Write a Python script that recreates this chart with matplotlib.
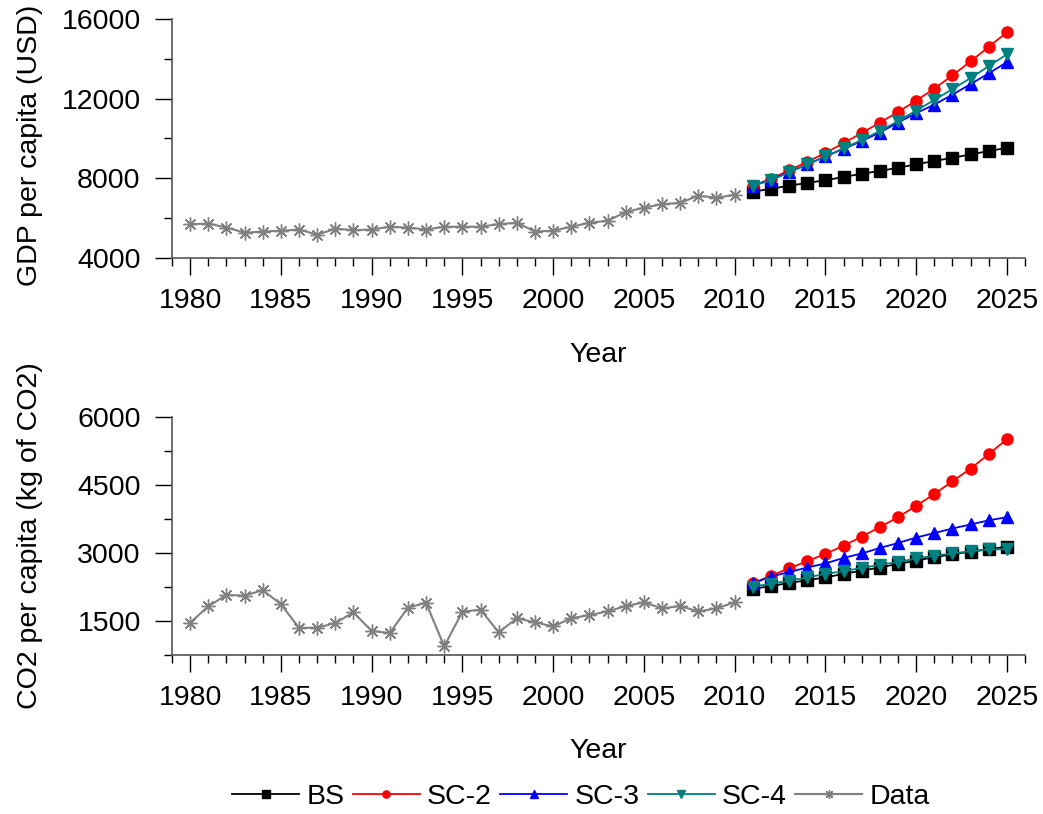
import numpy as np
import matplotlib.pyplot as plt
from matplotlib.ticker import MultipleLocator

plt.rcParams['font.family'] = ['Liberation Sans', 'DejaVu Sans']

# observed data
years_hist = list(range(1980, 2011))
gdp_hist = [5700, 5730, 5530, 5270, 5330, 5370, 5430, 5170, 5470, 5400,
            5430, 5570, 5530, 5430, 5570, 5570, 5570, 5700, 5770, 5330,
            5370, 5570, 5770, 5870, 6300, 6530, 6700, 6770, 7130, 7030,
            7170]
co2_hist = [1460, 1825, 2075, 2060, 2180, 1870, 1350, 1350, 1456, 1690,
            1280, 1235, 1795, 1900, 940, 1705, 1750, 1250, 1560, 1470,
            1380, 1560, 1630, 1710, 1830, 1910, 1780, 1830, 1710, 1780,
            1910]

# scenario projections
years_proj = list(range(2011, 2026))
gdp_bs = [7330, 7470, 7630, 7770, 7900, 8070, 8230, 8370, 8530, 8700,
          8870, 9030, 9200, 9370, 9530]
gdp_sc2 = [7630, 7970, 8400, 8830, 9270, 9770, 10270, 10800, 11330, 11900,
           12500, 13170, 13870, 14600, 15330]
gdp_sc3 = [7630, 7930, 8320, 8700, 9100, 9480, 9870, 10300, 10800, 11270,
           11700, 12200, 12730, 13270, 13830]
gdp_sc4 = [7630, 7900, 8300, 8700, 9100, 9500, 9930, 10370, 10870, 11400,
           11930, 12480, 13030, 13630, 14230]

co2_bs = [2210, 2270, 2340, 2400, 2460, 2540, 2610, 2680, 2760, 2830,
          2910, 2970, 3030, 3080, 3140]
co2_sc2 = [2330, 2500, 2660, 2820, 2980, 3160, 3360, 3570, 3790, 4040,
           4300, 4580, 4860, 5180, 5510]
co2_sc3 = [2330, 2480, 2580, 2680, 2770, 2890, 2990, 3110, 3220, 3340,
           3440, 3540, 3630, 3720, 3790]
co2_sc4 = [2260, 2320, 2390, 2460, 2540, 2600, 2670, 2740, 2800, 2880,
           2940, 2990, 3040, 3080, 3080]

labels = ['BS', 'SC-2', 'SC-3', 'SC-4', 'Data']
colors = ['black', '#ff0000', '#0000ff', '#008080', '#808080']
markers = ['s', 'o', '^', 'v', (8, 2, 0)]

FS = 20.5
fig = plt.figure(figsize=(10.43, 8.14), dpi=100)
W, H = 1043, 814


def make_axes(top, bottom):
    return fig.add_axes([172 / W, 1 - bottom / H, (1025 - 172) / W, (bottom - top) / H])


def style_axes(ax, ylim, ymajor, yminor, ylabel, ylab_y):
    for s in ['top', 'right']:
        ax.spines[s].set_visible(False)
    for s in ['left', 'bottom']:
        ax.spines[s].set_color('#555555')
        ax.spines[s].set_linewidth(1.2)
    ax.set_xlim(1979, 2026)
    ax.set_ylim(*ylim)
    ax.xaxis.set_major_locator(MultipleLocator(5))
    ax.xaxis.set_minor_locator(MultipleLocator(1))
    ax.yaxis.set_major_locator(MultipleLocator(ymajor))
    ax.yaxis.set_minor_locator(MultipleLocator(yminor))
    ax.tick_params(which='major', direction='out', length=12.5, width=1.0, labelsize=FS)
    ax.tick_params(which='minor', direction='out', length=6, width=1.0)
    ax.tick_params(axis='x', which='major', pad=9)
    ax.tick_params(axis='y', which='major', pad=10)
    ax.set_xticks(range(1980, 2026, 5))
    ax.set_xlabel('Year', fontsize=FS)
    ax.xaxis.set_label_coords(0.5, -0.35)
    ax.set_ylabel(ylabel, fontsize=FS)
    ax.yaxis.set_label_coords(-0.151, ylab_y)


def draw(ax, hist, proj):
    handles = []
    for series, lab, c, m in zip(proj, labels[:4], colors[:4], markers[:4]):
        h, = ax.plot(years_proj, series, color=c, marker=m, markersize=8,
                     linewidth=1.3, label=lab, clip_on=False, zorder=3)
        handles.append(h)
    h, = ax.plot(years_hist, hist, color=colors[4], marker=markers[4], markersize=10,
                 markeredgewidth=1.0, linewidth=1.5, label=labels[4], clip_on=False, zorder=2)
    handles.append(h)
    return handles


ax1 = make_axes(19, 258)
handles = draw(ax1, gdp_hist, [gdp_bs, gdp_sc2, gdp_sc3, gdp_sc4])
style_axes(ax1, (4000, 16000), 4000, 2000, 'GDP per capita (USD)', 0.47)

ax2 = make_axes(417, 655)
draw(ax2, co2_hist, [co2_bs, co2_sc2, co2_sc3, co2_sc4])
style_axes(ax2, (750, 6000), 1500, 750, 'CO2 per capita (kg of CO2)', 0.5)

fig.legend(handles=handles, labels=labels, loc='center', ncol=5,
           bbox_to_anchor=(581 / W, 1 - 797 / H), frameon=False, fontsize=FS,
           handlelength=2.35, handletextpad=0.25, columnspacing=0.3,
           markerscale=0.65, borderpad=0, borderaxespad=0)

fig.savefig('out.png', dpi=100)
